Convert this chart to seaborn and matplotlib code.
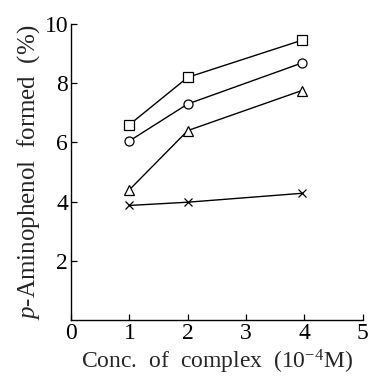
import matplotlib
matplotlib.use("Agg")
import matplotlib.pyplot as plt
import seaborn as sns
import pandas as pd

# Data
conc = [1.0, 2.0, 3.95]
square_vals = [6.6, 8.2, 9.45]
circle_vals = [6.05, 7.3, 8.68]
triangle_vals = [4.4, 6.4, 7.75]
cross_vals = [3.87, 3.98, 4.28]
series_names = ["square", "circle", "triangle", "cross"]
series_markers = ["s", "o", "^", "x"]
x_ticks = [0, 1, 2, 3, 4, 5]
y_ticks = [2, 4, 6, 8, 10]

sns.set_style("ticks")
plt.rcParams["font.family"] = ["Liberation Serif", "DejaVu Serif"]
plt.rcParams["mathtext.fontset"] = "custom"
plt.rcParams["mathtext.rm"] = "Liberation Serif"
plt.rcParams["mathtext.it"] = "Liberation Serif:italic"

fig = plt.figure(figsize=(3.68, 3.76), dpi=100)
ax = fig.add_axes([0.193, 0.149, 0.793, 0.787])

all_vals = [square_vals, circle_vals, triangle_vals, cross_vals]
for name, mk, vals in zip(series_names, series_markers, all_vals):
    df = pd.DataFrame({"conc": conc, "val": vals})
    kw = dict(marker=mk, markersize=6.5 if mk != "x" else 6, color="black",
              linewidth=1.0, markeredgewidth=0.9, markeredgecolor="black")
    if mk != "x":
        kw["markerfacecolor"] = "white"
    sns.lineplot(data=df, x="conc", y="val", ax=ax, **kw)

ax.set_xlim(0, 5)
ax.set_ylim(0, 10)
ax.set_xticks(x_ticks)
ax.set_yticks(y_ticks)
ax.set_xticklabels([str(t) for t in x_ticks])
ax.set_yticklabels([str(t) for t in y_ticks])
ax.tick_params(direction="in", length=4.5, width=0.9, labelsize=17, pad=2, colors="black")
for s in ["top", "right"]:
    ax.spines[s].set_visible(False)
for s in ["left", "bottom"]:
    ax.spines[s].set_linewidth(1.0)
    ax.spines[s].set_color("black")

ax.set_xlabel("Conc.  of  complex  (10$^{-4}$M)", fontsize=17, labelpad=3)
ax.set_ylabel("$p$-Aminophenol  formed  (%)", fontsize=18, labelpad=2)

fig.savefig("out.png", dpi=100, facecolor="white")
